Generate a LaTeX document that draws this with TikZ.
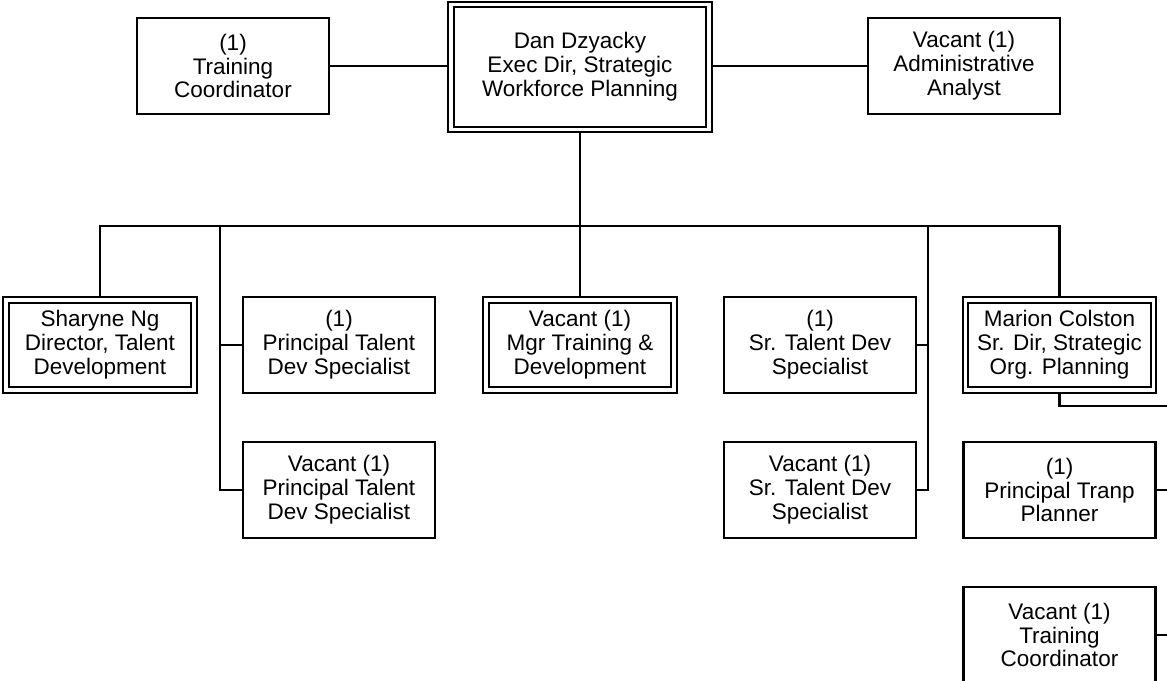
\documentclass[tikz,border=0pt]{standalone}
\usepackage{fontspec}
\setmainfont{Liberation Sans}

\begin{document}
\begin{tikzpicture}[
    post/.style={draw, line width=1.3pt, minimum width=3.84cm, minimum height=1.92cm,
        align=center, inner sep=2pt, font=\fontsize{12.8}{13.6}\selectfont},
    head/.style={post, double, double distance=1.9pt, outer sep=2.2pt,
        minimum width=3.76cm, minimum height=1.8cm},
    link/.style={line width=1.3pt}
]
\useasboundingbox (0,0) rectangle (23.34,-13.62);
\clip (0,0) rectangle (23.34,-13.62);

% boxes with a double border
\node[head, minimum width=5.16cm, minimum height=2.5cm] (dan) at (11.6,-1.34)
    {Dan Dzyacky\\Exec Dir, Strategic\\Workforce Planning};
\node[head] (sharyne) at (2.0,-6.9) {Sharyne Ng\\Director, Talent\\Development};
\node[head] (mgrtd) at (11.6,-6.9) {Vacant (1)\\Mgr Training \&\\Development};
\node[head] (marion) at (21.19,-6.9) {Marion Colston\\Sr. Dir, Strategic\\Org. Planning};

% plain boxes
\node[post] (trcoord) at (4.66,-1.32) {(1)\\Training\\Coordinator};
\node[post] (admin) at (19.28,-1.32) {Vacant (1)\\Administrative\\Analyst};
\node[post] (ptdA) at (6.78,-6.9) {(1)\\Principal Talent\\Dev Specialist};
\node[post] (srtdA) at (16.4,-6.9) {(1)\\Sr. Talent Dev\\Specialist};
\node[post] (ptdB) at (6.78,-9.8) {Vacant (1)\\Principal Talent\\Dev Specialist};
\node[post] (srtdB) at (16.4,-9.8) {Vacant (1)\\Sr. Talent Dev\\Specialist};
\node[post] (tranp) at (21.19,-9.8) {(1)\\Principal Tranp\\Planner};
\node[post] (trcoordB) at (21.19,-12.7) {Vacant (1)\\Training\\Coordinator};

% lines
\coordinate (bus) at (11.6,-4.52);
\coordinate (lsp) at (4.4,-4.52);
\coordinate (rsp) at (18.56,-4.52);
\coordinate (msp) at (23.6,-8.12);

\draw[link] (trcoord) -- (trcoord -| dan.west);
\draw[link] (dan.east |- admin) -- (admin);
\draw[link] (dan) -- (mgrtd);
\draw[link] (sharyne.north) -- (sharyne.north |- bus) -- (marion.north |- bus) -- (marion.north);
\draw[link] (lsp) |- (ptdB.west);
\draw[link] (ptdA.west) -- (ptdA.west -| lsp);
\draw[link] (rsp) |- (srtdB.east);
\draw[link] (srtdA.east) -- (srtdA.east -| rsp);
\draw[link] (marion.south) |- (msp) -- (msp |- trcoordB.east);
\draw[link] (tranp.east) -- (tranp.east -| msp);
\draw[link] (trcoordB.east) -- (trcoordB.east -| msp);
\end{tikzpicture}
\end{document}
